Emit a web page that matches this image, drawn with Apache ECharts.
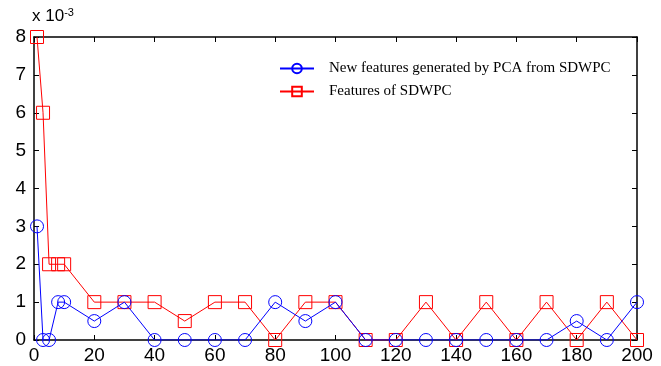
<!DOCTYPE html>
<html>
<head>
<meta charset="utf-8">
<script src="https://cdn.jsdelivr.net/npm/echarts@6/dist/echarts.min.js"></script>
<style>
  html, body { margin: 0; padding: 0; background: #fff; }
  #chart { width: 661px; height: 366px; }
</style>
</head>
<body>
<div id="chart"></div>
<script>
// x positions (number of features) and values in units of 1e-3
const xPoints = [1, 3, 5, 8, 10, 20, 30, 40, 50, 60, 70, 80, 90, 100, 110, 120, 130, 140, 150, 160, 170, 180, 190, 200];
const pcaValues = [3, 0, 0, 1, 1, 0.5, 1, 0, 0, 0, 0, 1, 0.5, 1, 0, 0, 0, 0, 0, 0, 0, 0.5, 0, 1];
const sdwpcValues = [8, 6, 2, 2, 2, 1, 1, 1, 0.5, 1, 1, 0, 1, 1, 0, 0, 1, 0, 1, 0, 1, 0, 1, 0];
const seriesNames = ['New features generated by PCA from SDWPC', 'Features of SDWPC'];

const chart = echarts.init(document.getElementById('chart'));

const toPairs = (vals) => xPoints.map((x, i) => [x, vals[i]]);

const axisCommon = {
  type: 'value',
  axisLine: { show: true, onZero: false, lineStyle: { color: '#000', width: 1.5 } },
  axisTick: { show: true, inside: true, length: 5, lineStyle: { color: '#000' } },
  splitLine: { show: false },
};

const option = {
  animation: false,
  grid: { left: 34, right: 24, top: 37, bottom: 26 },
  legend: {
    orient: 'vertical',
    left: 274,
    top: 56,
    itemWidth: 34,
    itemHeight: 12,
    itemGap: 8,
    textStyle: { fontFamily: 'Liberation Serif', fontSize: 15, color: '#000', padding: [0, 0, 0, 10] },
    data: seriesNames,
  },
  graphic: [{
    type: 'text',
    left: 32,
    top: 7,
    style: {
      text: 'x 10{sup|-3}',
      fontFamily: 'Liberation Sans',
      fontSize: 17,
      fill: '#000',
      rich: { sup: { fontSize: 11, verticalAlign: 'top', padding: [0, 0, 8, 0] } },
    },
  }],
  xAxis: [
    Object.assign({}, axisCommon, {
      position: 'bottom', min: 0, max: 200, interval: 20,
      axisLabel: { fontFamily: 'Liberation Sans', fontSize: 19, color: '#000', margin: 6 },
    }),
    Object.assign({}, axisCommon, {
      position: 'top', min: 0, max: 200, interval: 20,
      axisLabel: { show: false },
    }),
  ],
  yAxis: [
    Object.assign({}, axisCommon, {
      position: 'left', min: 0, max: 8, interval: 1,
      axisLabel: { fontFamily: 'Liberation Sans', fontSize: 19, color: '#000', margin: 8 },
    }),
    Object.assign({}, axisCommon, {
      position: 'right', min: 0, max: 8, interval: 1,
      axisLabel: { show: false },
    }),
  ],
  series: [
    {
      name: seriesNames[0],
      type: 'line',
      data: toPairs(pcaValues),
      symbol: 'circle',
      symbolSize: 13,
      color: '#0000ff',
      lineStyle: { width: 1, color: '#0000ff' },
      itemStyle: { color: 'transparent', borderColor: '#0000ff', borderWidth: 1 },
      z: 3,
    },
    {
      name: seriesNames[1],
      type: 'line',
      data: toPairs(sdwpcValues),
      symbol: 'rect',
      symbolSize: 13,
      color: '#ff0000',
      lineStyle: { width: 1, color: '#ff0000' },
      itemStyle: { color: 'transparent', borderColor: '#ff0000', borderWidth: 1 },
      z: 2,
    },
  ],
};

chart.setOption(option);
</script>
</body>
</html>
